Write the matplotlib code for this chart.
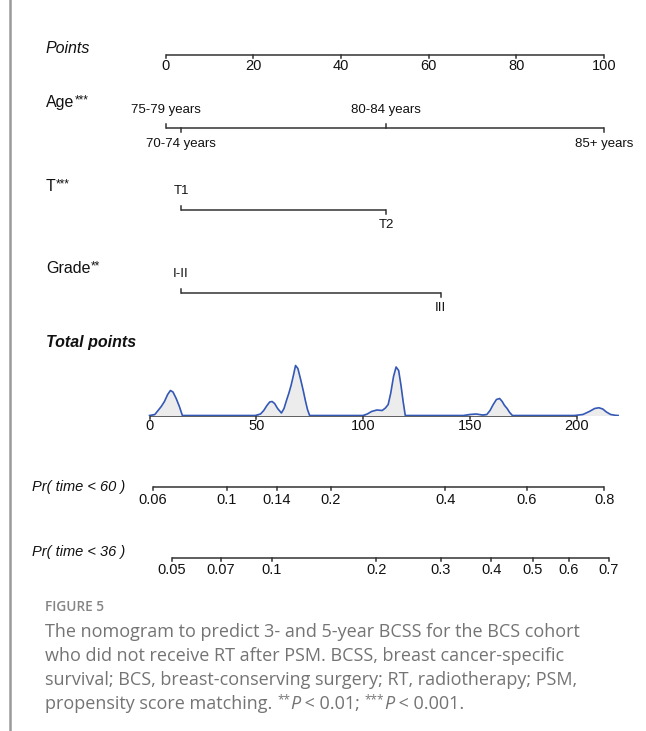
import matplotlib
matplotlib.use('Agg')
import matplotlib.pyplot as plt
from matplotlib.lines import Line2D
from matplotlib.transforms import offset_copy

W, H = 646, 731

# ---- nomogram data (points scale 0-100)
points_ticks = [0, 20, 40, 60, 80, 100]
age_labels = ['75-79 years', '70-74 years', '80-84 years', '85+ years']
age_points = [0, 3.5, 50.3, 100]
age_above = [True, False, True, False]
t_labels = ['T1', 'T2']
t_points = [3.5, 50.3]
t_above = [True, False]
grade_labels = ['I-II', 'III']
grade_points = [3.5, 62.7]
grade_above = [True, False]

# ---- total points scale
total_ticks = [0, 50, 100, 150, 200]
pr60_labels = ['0.06', '0.1', '0.14', '0.2', '0.4', '0.6', '0.8']
pr60_total = [1.5, 36.2, 59.6, 84.9, 138.5, 176.7, 213.0]
pr36_labels = ['0.05', '0.07', '0.1', '0.2', '0.3', '0.4', '0.5', '0.6', '0.7']
pr36_total = [10.5, 33.5, 57.4, 106.3, 136.5, 160.0, 179.6, 196.5, 215.2]

# density of total points (relative height)
dens_x = [0, 2.5, 4, 5.5, 7, 8.5, 9.8, 11, 12.5, 14, 15.4,
          49.5, 52, 53.5, 55, 56.3, 57.4, 58.6, 60, 61.8, 63, 64.3, 65.3, 66.3,
          67.4, 68.4, 69.5, 70.8, 72, 73, 74, 75,
          100, 102, 104, 106.5, 109, 110.5, 111.8, 113, 114.3, 115.5, 116.7,
          117.8, 118.8, 119.8,
          147, 150, 153, 156, 158, 159.5, 161, 162.5, 164, 165.2, 166.3, 167.5,
          168.7, 170,
          199, 203, 206, 208.5, 210.5, 212.3, 214, 216, 218, 219.5]
dens_y = [0, 0.02, 0.1, 0.18, 0.28, 0.42, 0.5, 0.47, 0.34, 0.18, 0,
          0, 0.03, 0.1, 0.2, 0.27, 0.28, 0.24, 0.14, 0.05, 0.14, 0.32, 0.45, 0.6,
          0.8, 1.0, 0.94, 0.72, 0.5, 0.3, 0.12, 0,
          0, 0.03, 0.08, 0.11, 0.10, 0.15, 0.22, 0.45, 0.78, 0.97, 0.9,
          0.6, 0.28, 0,
          0, 0.02, 0.03, 0.01, 0.02, 0.1, 0.22, 0.32, 0.34, 0.28, 0.2, 0.14,
          0.06, 0,
          0, 0.02, 0.08, 0.14, 0.155, 0.13, 0.07, 0.02, 0.005, 0]

caption = ['The nomogram to predict 3- and 5-year BCSS for the BCS cohort',
           'who did not receive RT after PSM. BCSS, breast cancer-specific',
           'survival; BCS, breast-conserving surgery; RT, radiotherapy; PSM,']

LINE = '#333333'
plt.rcParams['font.family'] = 'Liberation Sans'

fig = plt.figure(figsize=(W / 100, H / 100), dpi=100)
renderer = fig.canvas.get_renderer()


def layer(xlim):
    ax = fig.add_axes([0, 0, 1, 1])
    ax.set_xlim(*xlim)
    ax.set_ylim(H, 0)
    ax.axis('off')
    ax.patch.set_visible(False)
    return ax


lab = layer((0, W))
pts = layer((-165.7 / 4.383, (W - 165.7) / 4.383))
tot = layer((-149.5 / 2.135, (W - 149.5) / 2.135))

# density panel, baseline on the total points axis
base_y = 415.5
den = fig.add_axes([0, 1 - base_y / H, 1, 52 / H])
den.set_xlim(tot.get_xlim())
den.set_ylim(0, 1.04)
den.axis('off')
den.patch.set_visible(False)
den.fill_between(dens_x, 0, dens_y, color='#ececec', lw=0)
den.plot(dens_x, dens_y, color='#3358b5', lw=1.2)


def rich(ax, x, y, parts):
    dx = 0
    for s, kw, rise in parts:
        tr = offset_copy(ax.transData, fig=fig, x=dx, y=rise, units='dots')
        t = ax.text(x, y, s, transform=tr, va='baseline', ha='left', **kw)
        dx += t.get_window_extent(renderer).width


def scale_row(ax, y, ticks, labels, above=None, lo=None, hi=None,
              tick_len=3, gap=3.5, fs=9.5):
    lo = ticks[0] if lo is None else lo
    hi = ticks[-1] if hi is None else hi
    ax.plot([lo, hi], [y, y], color=LINE, lw=1.1, solid_capstyle='butt', zorder=5)
    for i, (t, l) in enumerate(zip(ticks, labels)):
        up = above[i] if above else False
        d = -tick_len if up else tick_len
        ax.plot([t, t], [y, y + d], color=LINE, lw=1.1, zorder=5)
        if up:
            ax.text(t, y - gap - 6, l, ha='center', va='baseline', fontsize=fs, color='#111')
        else:
            ax.text(t, y + gap, l, ha='center', va='top', fontsize=fs, color='#111')


# rows
scale_row(pts, 55, points_ticks, [str(v) for v in points_ticks], gap=3.5, fs=10.5)
scale_row(pts, 128.3, age_points, age_labels, age_above, lo=0, hi=100, tick_len=4, gap=9.5)
scale_row(pts, 210, t_points, t_labels, t_above, tick_len=4, gap=9.5)
scale_row(pts, 292.5, grade_points, grade_labels, grade_above, tick_len=4, gap=9.5)
scale_row(tot, base_y, total_ticks, [str(v) for v in total_ticks], gap=3.5, fs=10.5)
scale_row(tot, 487, pr60_total, pr60_labels, gap=5.5, fs=10.5)
scale_row(tot, 557.5, pr36_total, pr36_labels, gap=5.5, fs=10.5)

# variable names
LX = 46
name = dict(fontsize=11.5, color='#111')
sup = dict(fontsize=8.5, color='#111')
rich(lab, LX, 53, [('Points', dict(name, style='italic'), 0)])
rich(lab, LX, 107, [('Age', name, 0), ('***', sup, 4)])
rich(lab, LX, 191, [('T', name, 0), ('***', sup, 4)])
rich(lab, LX, 273, [('Grade', name, 0), ('**', sup, 4)])
rich(lab, LX, 347, [('Total points', dict(name, style='italic', weight='bold'), 0)])
rich(lab, 32, 491, [('Pr( time < 60 )', dict(fontsize=10.5, style='italic', color='#111'), 0)])
rich(lab, 32, 556, [('Pr( time < 36 )', dict(fontsize=10.5, style='italic', color='#111'), 0)])

# caption
CAP = '#747474'
cap_kw = dict(fontsize=13.0, family='Open Sans', color=CAP)
rich(lab, 45, 611, [('FIGURE 5', dict(fontsize=9.8, family='Open Sans', weight='semibold', color='#858585'), 0)])
for i, line in enumerate(caption):
    rich(lab, 45, 637 + 24 * i, [(line, cap_kw, 0)])
cap_sup = dict(cap_kw, fontsize=8.5)
cap_it = dict(cap_kw, style='italic')
rich(lab, 45, 637 + 24 * 3, [('propensity score matching. ', cap_kw, 0),
                             ('**', cap_sup, 6), ('P', cap_it, 0),
                             (' < 0.01; ', cap_kw, 0),
                             ('***', cap_sup, 6), ('P', cap_it, 0),
                             (' < 0.001.', cap_kw, 0)])

# article frame line at the left
fig.add_artist(Line2D([9.5 / W, 9.5 / W], [0, 1], color='#9a9a9a', lw=1.8))

fig.savefig('out.png', dpi=100, facecolor='white')
